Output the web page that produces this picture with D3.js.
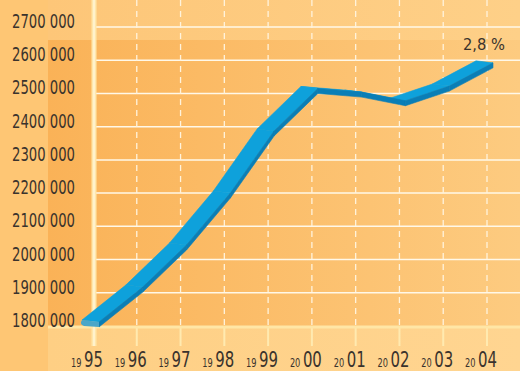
<!DOCTYPE html>
<html>
<head>
<meta charset="utf-8">
<script src="https://cdn.jsdelivr.net/npm/d3@7"></script>
<style>
  html, body { margin: 0; padding: 0; background: #fec674; }
  svg { display: block; }
  text { font-family: "DejaVu Sans Condensed", "Liberation Sans Narrow", "DejaVu Sans", sans-serif; font-stretch: condensed; fill: #3a332d; }
</style>
</head>
<body>
<div id="chart"></div>
<script>
// data
const years = ["1995", "1996", "1997", "1998", "1999", "2000", "2001", "2002", "2003", "2004"];
const population = [1800000, 1905000, 2032000, 2188000, 2375000, 2503000, 2492000, 2466000, 2510000, 2580000];
const yTicks = [1800000, 1900000, 2000000, 2100000, 2200000, 2300000, 2400000, 2500000, 2600000, 2700000];
const growthLabel = "2,8 %";

// dimensions
const width = 520, height = 371;
const axisY = 326;      // baseline of the value axis
const axisX = 93;       // the vertical axis

const svg = d3.select("#chart")
  .append("svg")
  .attr("width", width)
  .attr("height", height)
  .attr("viewBox", `0 0 ${width} ${height}`);

const defs = svg.append("defs");
const plotGrad = defs.append("linearGradient").attr("id", "plotGrad")
  .attr("x1", "0%").attr("x2", "100%").attr("y1", "0%").attr("y2", "0%");
plotGrad.append("stop").attr("offset", "0%").attr("stop-color", "#fab257");
plotGrad.append("stop").attr("offset", "100%").attr("stop-color", "#fdcb80");

const topGrad = defs.append("linearGradient").attr("id", "topGrad")
  .attr("x1", "0%").attr("x2", "100%").attr("y1", "0%").attr("y2", "0%");
topGrad.append("stop").attr("offset", "0%").attr("stop-color", "#fdc678");
topGrad.append("stop").attr("offset", "100%").attr("stop-color", "#fed088");

const botGrad = defs.append("linearGradient").attr("id", "botGrad")
  .attr("x1", "0%").attr("x2", "100%").attr("y1", "0%").attr("y2", "0%");
botGrad.append("stop").attr("offset", "0%").attr("stop-color", "#fecf84");
botGrad.append("stop").attr("offset", "100%").attr("stop-color", "#ffd591");

// scales
const x = d3.scalePoint()
  .domain(years)
  .range([axisX, 487]);

const y = d3.scaleLinear()
  .domain([1800000, 2700000])
  .range([axisY, 27]);

// background panels
svg.append("rect").attr("x", 0).attr("y", 0).attr("width", width).attr("height", height).attr("fill", "#fec674");
svg.append("rect").attr("x", 48).attr("y", 0).attr("width", width - 48).attr("height", 40).attr("fill", "url(#topGrad)");
svg.append("rect").attr("x", 48).attr("y", 40).attr("width", width - 48).attr("height", axisY - 40).attr("fill", "url(#plotGrad)");
svg.append("rect").attr("x", 48).attr("y", axisY).attr("width", width - 48).attr("height", height - axisY).attr("fill", "url(#botGrad)");

// horizontal grid
svg.append("g")
  .selectAll("line")
  .data(yTicks.filter(d => d > 1800000))
  .join("line")
  .attr("x1", axisX + 3)
  .attr("x2", width)
  .attr("y1", d => y(d))
  .attr("y2", d => y(d))
  .attr("stroke", "#fff8e8")
  .attr("stroke-width", 1.5);

// dashed verticals
svg.append("g")
  .selectAll("line")
  .data(years.slice(1))
  .join("line")
  .attr("x1", d => x(d))
  .attr("x2", d => x(d))
  .attr("y1", 0)
  .attr("y2", axisY)
  .attr("stroke", "#fff3dc")
  .attr("stroke-width", 1.3)
  .attr("stroke-dasharray", "6,5");

// ticks below the axis
svg.append("g")
  .selectAll("line")
  .data(years)
  .join("line")
  .attr("x1", d => x(d))
  .attr("x2", d => x(d))
  .attr("y1", axisY)
  .attr("y2", 346)
  .attr("stroke", "#ffeab0")
  .attr("stroke-width", 2);

// x axis line
svg.append("line")
  .attr("x1", 48).attr("x2", width)
  .attr("y1", axisY + 1).attr("y2", axisY + 1)
  .attr("stroke", "#ffe6a6")
  .attr("stroke-width", 3);

// y axis line
svg.append("line")
  .attr("x1", axisX + 1).attr("x2", axisX + 1)
  .attr("y1", 0).attr("y2", 346)
  .attr("stroke", "#ffe7ac")
  .attr("stroke-width", 5);
svg.append("line")
  .attr("x1", axisX + 1).attr("x2", axisX + 1)
  .attr("y1", 0).attr("y2", 346)
  .attr("stroke", "#fff2cc")
  .attr("stroke-width", 2);

// y labels
svg.append("g")
  .selectAll("text")
  .data(yTicks)
  .join("text")
  .attr("x", 75)
  .attr("y", d => y(d) + 1)
  .attr("text-anchor", "end")
  .attr("font-size", 20)
  .attr("textLength", 63)
  .attr("lengthAdjust", "spacingAndGlyphs")
  .text(d => Math.floor(d / 1000000) + "" + String(Math.floor(d / 1000) % 1000).padStart(3, "0") + " 000");

// x labels: small century prefix + big year digits, one text per year
const xl = svg.append("g")
  .selectAll("text")
  .data(years)
  .join("text")
  .attr("y", 367);
xl.append("tspan")
  .attr("x", d => x(d) - 22)
  .attr("font-size", 13)
  .attr("textLength", 10.5)
  .attr("lengthAdjust", "spacingAndGlyphs")
  .text(d => d.slice(0, 2));
xl.append("tspan")
  .attr("x", d => x(d) - 9)
  .attr("font-size", 21)
  .attr("textLength", 19)
  .attr("lengthAdjust", "spacingAndGlyphs")
  .text(d => d.slice(2));

// 3D ribbon
const frontDx = 6, liftY = 4, depthX = 17, depthY = 2, thick = 5;
const pts = years.map((yr, i) => {
  const fx = x(yr) + frontDx, fy = y(population[i]) - liftY;
  return { fx, fy, bx: fx - depthX, by: fy - depthY };
});
const segs = d3.pairs(pts);

const ribbon = svg.append("g");
ribbon.selectAll(".top-face")
  .data(segs)
  .join("path")
  .attr("class", "top-face")
  .attr("fill", "#0ea1db")
  .attr("stroke", "#0ea1db")
  .attr("stroke-width", 0.6)
  .attr("stroke-linejoin", "round")
  .attr("d", ([a, b]) => `M${a.fx},${a.fy}L${b.fx},${b.fy}L${b.bx},${b.by}L${a.bx},${a.by}Z`);

ribbon.selectAll(".front-face")
  .data(segs)
  .join("path")
  .attr("class", "front-face")
  .attr("fill", "#0a7eb6")
  .attr("stroke", "#0a7eb6")
  .attr("stroke-width", 0.6)
  .attr("stroke-linejoin", "round")
  .attr("d", ([a, b]) => `M${a.fx},${a.fy}L${b.fx},${b.fy}L${b.fx},${b.fy + thick}L${a.fx},${a.fy + thick}Z`);

// start cap
const p0 = pts[0];
ribbon.append("path")
  .attr("fill", "#4aa6c8")
  .attr("d", `M${p0.bx},${p0.by}L${p0.fx},${p0.fy}L${p0.fx},${p0.fy + thick}L${p0.bx + 2},${p0.by + thick + 1}Q${p0.bx - 3},${p0.by + 4} ${p0.bx},${p0.by}Z`);

// growth label
svg.append("text")
  .attr("x", 484)
  .attr("y", 50)
  .attr("text-anchor", "middle")
  .attr("font-size", 16)
  .attr("textLength", 42)
  .attr("lengthAdjust", "spacingAndGlyphs")
  .text(growthLabel);
</script>
</body>
</html>
